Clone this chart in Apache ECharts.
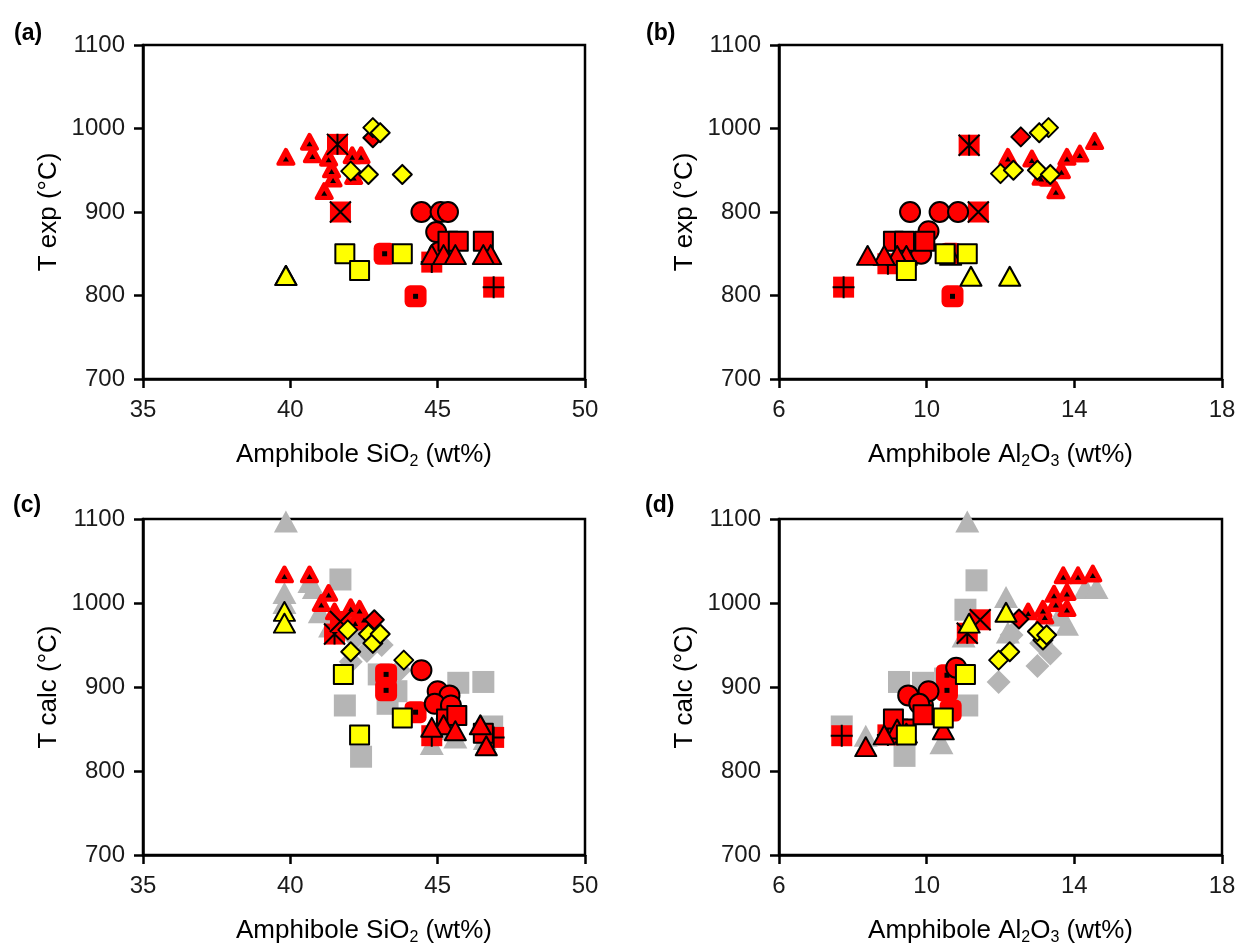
<!DOCTYPE html>
<html><head><meta charset="utf-8">
<script src="https://cdn.jsdelivr.net/npm/echarts@6/dist/echarts.min.js"></script>
<style>html,body{margin:0;padding:0;background:#fff}#c{width:1242px;height:949px}</style>
</head><body><div id="c"></div>
<script>
// ---------- tick labels ----------
const yTicks = [700, 800, 900, 1000, 1100];
const yLabelsStd = ['700', '800', '900', '1000', '1100'];
const yLabelsB = ['700', '800', '800', '1000', '1100'];
const xTicksSi = [35, 40, 45, 50];
const xTicksAl = [6, 10, 14, 18];

// ---------- panel (a): SiO2 vs T exp ----------
const aRedTriDot = [[39.85,966],[40.65,984],[40.75,969],[41.3,965],[41.4,951],[41.45,940],[41.15,925],[42.1,968],[42.4,968],[42.15,943]];
const aRedStar = [[41.6,981]];
const aRedX = [[41.7,900]];
const aRedPlus = [[44.8,840],[46.9,810]];
const aRedRoundDot = [[43.2,850],[44.25,799]];
const aRedCircle = [[45.05,852],[44.45,900],[45.1,900],[45.35,900],[44.95,876]];
const aRedSquare = [[45.35,865],[45.7,865],[46.55,865]];
const aRedTri = [[44.8,849],[45.2,849],[45.6,849],[46.8,849],[46.55,849]];
const aRedDiamond = [[42.8,989]];
const aYelDiamond = [[42.8,1001],[43.05,995],[42.05,949],[42.65,945],[43.8,945]];
const aYelSquare = [[41.85,850],[42.35,830],[43.8,850]];
const aYelTri = [[39.85,824],[39.85,824]];

// ---------- panel (b): Al2O3 vs T exp ----------
const bRedTriDot = [[12.2,966],[12.85,964],[13.8,966],[14.15,970],[14.55,985],[13.5,926],[13.65,950],[13.3,941],[12.2,955],[13.1,942]];
const bRedStar = [[11.15,980]];
const bRedX = [[11.4,900]];
const bRedPlus = [[7.75,810],[8.95,838]];
const bRedRoundDot = [[10.65,850],[10.7,799]];
const bRedCircle = [[9.85,850],[9.55,900],[10.35,900],[10.85,900],[10.05,877]];
const bRedSquare = [[9.1,865],[9.4,865],[9.95,865]];
const bRedTri = [[10.65,848],[9.45,848],[9.2,848],[8.85,848],[8.4,848]];
const bRedDiamond = [[12.55,990]];
const bYelDiamond = [[13.3,1001],[13.05,995],[12.0,946],[12.35,950],[13.0,950],[13.35,945]];
const bYelSquare = [[9.45,830],[10.5,850],[11.1,850]];
const bYelTri = [[11.2,823],[12.25,823]];

// ---------- panel (c): SiO2 vs T calc ----------
const cGraySquare = [[41.7,1028],[41.85,878],[42.4,817],[43.3,880],[43.6,895],[45.7,905],[46.55,906],[46.85,853],[45.3,850],[43.0,915]];
const cGrayTri = [[39.85,1097],[39.8,1012],[39.8,1000],[40.65,1025],[40.8,1018],[41.0,989],[41.35,972],[44.8,832],[45.6,840],[46.6,838]];
const cGrayDiamond = [[42.05,930],[42.6,943],[43.1,950],[42.2,958],[43.7,920]];
const cRedTriDot = [[39.8,1034],[40.65,1034],[41.3,1012],[41.05,1000],[42.05,995],[42.35,993],[41.5,990],[41.7,975],[42.2,978],[42.5,982]];
const cRedStar = [[41.5,963]];
const cRedX = [[41.7,978]];
const cRedPlus = [[44.8,842],[46.9,840]];
const cRedRoundDot = [[43.25,915],[43.25,896],[44.25,870]];
const cRedCircle = [[44.45,920],[45.0,895],[45.4,890],[44.9,880],[45.45,878]];
const cRedSquare = [[45.3,862],[45.65,866],[46.55,845]];
const cRedTri = [[45.2,855],[46.45,855],[44.8,852],[45.6,848],[46.65,830]];
const cRedDiamond = [[42.85,980]];
const cYelDiamond = [[41.95,968],[42.65,963],[42.8,952],[43.05,963],[42.05,942],[43.85,932]];
const cYelSquare = [[41.8,915],[42.35,843],[43.8,863]];
const cYelTri = [[39.8,990],[39.8,976]];

// ---------- panel (d): Al2O3 vs T calc ----------
const dGraySquare = [[7.7,853],[9.25,906],[9.9,905],[9.4,818],[11.35,1027],[11.05,992],[11.1,878],[10.5,910],[9.2,850]];
const dGrayTri = [[11.1,1097],[12.15,1007],[14.3,1018],[14.6,1018],[13.8,974],[13.6,985],[8.35,842],[10.4,833],[11.0,960],[12.2,965]];
const dGrayDiamond = [[11.95,906],[13.0,925],[13.35,940],[12.3,962],[13.1,952]];
const dRedTriDot = [[13.7,1033],[14.1,1033],[14.5,1035],[13.45,1011],[13.8,1013],[13.5,1000],[13.8,994],[12.75,990],[13.15,993],[13.2,985]];
const dRedStar = [[11.1,964]];
const dRedX = [[11.45,980]];
const dRedPlus = [[7.7,842],[8.95,843]];
const dRedRoundDot = [[10.55,914],[10.55,896],[10.65,872]];
const dRedCircle = [[9.9,878],[9.5,890],[10.05,895],[9.8,880],[10.8,923]];
const dRedSquare = [[9.4,850],[9.1,862],[9.9,867]];
const dRedTri = [[9.2,850],[9.45,845],[8.85,843],[8.35,829],[10.45,849]];
const dRedDiamond = [[12.5,981]];
const dYelDiamond = [[13.15,956],[13.0,966],[13.25,962],[11.95,932],[12.25,942]];
const dYelSquare = [[9.45,843],[10.45,863],[11.05,915]];
const dYelTri = [[11.15,976],[12.15,989]];

// ---------- styling ----------
const RED = '#ff0000', YEL = '#ffff00', GRAY = '#b5b5b5', BLK = '#000000';
const P_X = 'path://M0,0L10,10M10,0L0,10';
const P_STAR = 'path://M0,0L10,10M10,0L0,10M5,0L5,10';
const P_PLUS = 'path://M5,0L5,10M0,5L10,5';
const FONT = '"Liberation Sans", Arial, sans-serif';

function sc(i, data, symbol, size, color, bcolor, bw, extra) {
  return Object.assign({
    type: 'scatter', xAxisIndex: i, yAxisIndex: i, data: data,
    symbol: symbol, symbolSize: size, silent: true, animation: false,
    itemStyle: { color: color, borderColor: bcolor || color, borderWidth: bw || 0, borderJoin: 'round', opacity: 1 }
  }, extra || {});
}
function lines(i, data, path, size) {
  return sc(i, data, path, size, 'rgba(0,0,0,0)', BLK, 2, {});
}
function panel(i, s) {
  const out = [];
  if (s.graySquare) out.push(sc(i, s.graySquare, 'rect', 22, GRAY));
  if (s.grayTri) out.push(sc(i, s.grayTri, 'triangle', [24, 22], GRAY));
  if (s.grayDiamond) out.push(sc(i, s.grayDiamond, 'diamond', 24, GRAY));
  out.push(sc(i, s.redTriDot, 'triangle', [15, 14], RED, RED, 4));
  out.push(sc(i, s.redTriDot, 'triangle', [6, 5], BLK, BLK, 0, { symbolOffset: [0, 2] }));
  out.push(sc(i, s.redStar, 'rect', 21, RED));
  out.push(lines(i, s.redStar, P_STAR, 21));
  out.push(sc(i, s.redX, 'rect', 21, RED));
  out.push(lines(i, s.redX, P_X, 21));
  out.push(sc(i, s.redPlus, 'rect', 21, RED));
  out.push(lines(i, s.redPlus, P_PLUS, 22));
  out.push(sc(i, s.redRoundDot, 'roundRect', 22, RED));
  out.push(sc(i, s.redRoundDot, 'rect', 5, BLK));
  out.push(sc(i, s.redCircle, 'circle', 20, RED, BLK, 2));
  out.push(sc(i, s.redSquare, 'rect', 19, RED, BLK, 2));
  out.push(sc(i, s.redTri, 'triangle', [21, 19], RED, BLK, 2));
  out.push(sc(i, s.redDiamond, 'diamond', 19, RED, BLK, 2));
  out.push(sc(i, s.yelDiamond, 'diamond', 19, YEL, BLK, 2));
  out.push(sc(i, s.yelSquare, 'rect', 19, YEL, BLK, 2));
  out.push(sc(i, s.yelTri, 'triangle', [21, 19], YEL, BLK, 2));
  return out;
}

const grids = [
  { left: 143, top: 45, width: 442, height: 334 },
  { left: 779, top: 45, width: 443, height: 334 },
  { left: 143, top: 519, width: 442, height: 336 },
  { left: 779, top: 519, width: 443, height: 336 }
].map(g => Object.assign(g, { show: true, borderColor: BLK, borderWidth: 2.5, backgroundColor: 'transparent', containLabel: false }));

const sub = { fontSize: 16, fontFamily: FONT, color: BLK, padding: [14, 0, 0, 0] };
function xAx(i, min, max, interval, ticks, name) {
  return {
    type: 'value', gridIndex: i, min: min, max: max, interval: interval,
    name: name, nameLocation: 'middle', nameGap: 61,
    nameTextStyle: { fontSize: 26, fontFamily: FONT, color: BLK, rich: { sub: sub } },
    axisLine: { show: true, onZero: false, lineStyle: { color: BLK, width: 2.5 } },
    axisTick: { show: true, inside: false, length: 9, lineStyle: { color: BLK, width: 2.5 } },
    axisLabel: { fontSize: 24, fontFamily: FONT, color: '#1a1a1a', margin: 19,
      formatter: v => (ticks.indexOf(v) >= 0 ? String(v) : '') },
    splitLine: { show: false }
  };
}
function yAx(i, labels, name) {
  return {
    type: 'value', gridIndex: i, min: 700, max: 1100, interval: 100,
    name: name, nameLocation: 'middle', nameGap: 81,
    nameTextStyle: { fontSize: 26, fontFamily: FONT, color: BLK },
    axisLine: { show: true, onZero: false, lineStyle: { color: BLK, width: 2.5 } },
    axisTick: { show: true, inside: false, length: 9, lineStyle: { color: BLK, width: 2.5 } },
    axisLabel: { fontSize: 24, fontFamily: FONT, color: '#1a1a1a', margin: 18,
      formatter: v => { const k = yTicks.indexOf(v); return k >= 0 ? labels[k] : ''; } },
    splitLine: { show: false }
  };
}

const nameSi = 'Amphibole SiO{sub|2} (wt%)';
const nameAl = 'Amphibole Al{sub|2}O{sub|3} (wt%)';

const option = {
  backgroundColor: '#ffffff',
  animation: false,
  grid: grids,
  xAxis: [
    xAx(0, 35, 50, 5, xTicksSi, nameSi),
    xAx(1, 6, 18, 4, xTicksAl, nameAl),
    xAx(2, 35, 50, 5, xTicksSi, nameSi),
    xAx(3, 6, 18, 4, xTicksAl, nameAl)
  ],
  yAxis: [
    yAx(0, yLabelsStd, 'T exp (°C)'),
    yAx(1, yLabelsB, 'T exp (°C)'),
    yAx(2, yLabelsStd, 'T calc (°C)'),
    yAx(3, yLabelsStd, 'T calc (°C)')
  ],
  graphic: [
    { type: 'text', left: 14, top: 22, style: { text: '(a)', font: 'bold 23px ' + FONT, fill: BLK } },
    { type: 'text', left: 646, top: 22, style: { text: '(b)', font: 'bold 23px ' + FONT, fill: BLK } },
    { type: 'text', left: 13, top: 494, style: { text: '(c)', font: 'bold 23px ' + FONT, fill: BLK } },
    { type: 'text', left: 645, top: 494, style: { text: '(d)', font: 'bold 23px ' + FONT, fill: BLK } }
  ],
  series: [].concat(
    panel(0, { redTriDot: aRedTriDot, redStar: aRedStar, redX: aRedX, redPlus: aRedPlus, redRoundDot: aRedRoundDot,
      redCircle: aRedCircle, redSquare: aRedSquare, redTri: aRedTri, redDiamond: aRedDiamond,
      yelDiamond: aYelDiamond, yelSquare: aYelSquare, yelTri: aYelTri }),
    panel(1, { redTriDot: bRedTriDot, redStar: bRedStar, redX: bRedX, redPlus: bRedPlus, redRoundDot: bRedRoundDot,
      redCircle: bRedCircle, redSquare: bRedSquare, redTri: bRedTri, redDiamond: bRedDiamond,
      yelDiamond: bYelDiamond, yelSquare: bYelSquare, yelTri: bYelTri }),
    panel(2, { graySquare: cGraySquare, grayTri: cGrayTri, grayDiamond: cGrayDiamond,
      redTriDot: cRedTriDot, redStar: cRedStar, redX: cRedX, redPlus: cRedPlus, redRoundDot: cRedRoundDot,
      redCircle: cRedCircle, redSquare: cRedSquare, redTri: cRedTri, redDiamond: cRedDiamond,
      yelDiamond: cYelDiamond, yelSquare: cYelSquare, yelTri: cYelTri }),
    panel(3, { graySquare: dGraySquare, grayTri: dGrayTri, grayDiamond: dGrayDiamond,
      redTriDot: dRedTriDot, redStar: dRedStar, redX: dRedX, redPlus: dRedPlus, redRoundDot: dRedRoundDot,
      redCircle: dRedCircle, redSquare: dRedSquare, redTri: dRedTri, redDiamond: dRedDiamond,
      yelDiamond: dYelDiamond, yelSquare: dYelSquare, yelTri: dYelTri })
  )
};
const chart = echarts.init(document.getElementById('c'), null, { renderer: 'canvas' });
chart.setOption(option);
</script></body></html>
